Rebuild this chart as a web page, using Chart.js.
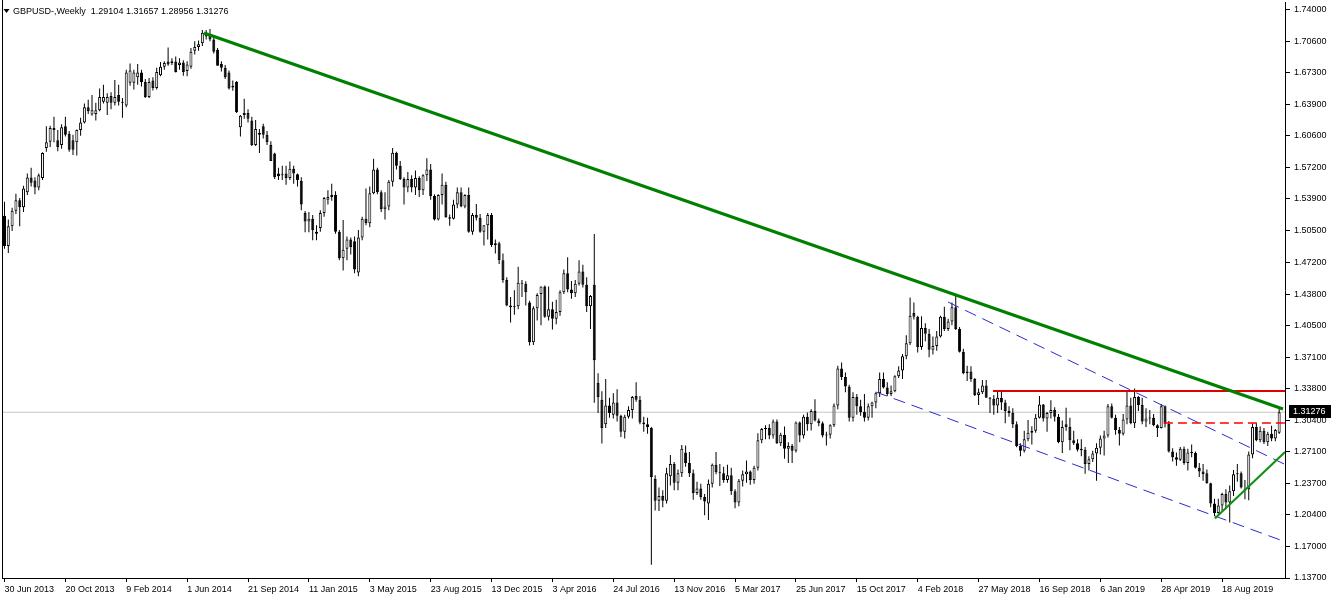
<!DOCTYPE html>
<html><head><meta charset="utf-8">
<script src="https://cdn.jsdelivr.net/npm/chart.js@4.4.0/dist/chart.umd.min.js"></script>
<style>html,body{margin:0;padding:0;background:#fff;overflow:hidden}</style>
</head><body>
<canvas id="c" width="1332" height="599"></canvas>
<script>
// ---- data (GBPUSD weekly, 30 Jun 2013 .. 1 Dec 2019) ----
const symbolName = 'GBPUSD-';
const periodName = 'Weekly';
const opens = [
1.5210,1.4890,1.5100,1.5265,1.5375,1.5300,1.5460,1.5615,1.5585,1.5510,
1.5610,1.5930,1.5995,1.6140,1.6010,1.5960,1.6160,1.6080,1.6010,1.5990,
1.6120,1.6200,1.6360,1.6285,1.6290,1.6330,1.6420,1.6410,1.6480,1.6410,
1.6490,1.6420,1.6380,1.6620,1.6620,1.6680,1.6730,1.6630,1.6470,1.6645,
1.6565,1.6700,1.6790,1.6845,1.6850,1.6845,1.6810,1.6835,1.6745,1.6790,
1.6960,1.7000,1.7040,1.7150,1.7130,1.7080,1.6970,1.6820,1.6780,1.6730,
1.6570,1.6630,1.6150,1.6280,1.6300,1.6220,1.5960,1.6070,1.6160,1.6070,
1.5960,1.5870,1.5660,1.5640,1.5660,1.5610,1.5710,1.5650,1.5580,1.5240,
1.5150,1.5180,1.5020,1.5080,1.5240,1.5380,1.5410,1.5430,1.5040,1.4760,
1.4860,1.4960,1.4940,1.4610,1.4980,1.5180,1.5130,1.5450,1.5700,1.5460,
1.5280,1.5310,1.5570,1.5880,1.5740,1.5600,1.5510,1.5600,1.5510,1.5610,
1.5480,1.5640,1.5700,1.5420,1.5170,1.5430,1.5540,1.5195,1.5180,1.5330,
1.5460,1.5310,1.5430,1.5040,1.5220,1.5190,1.5040,1.5110,1.5220,1.4900,
1.4920,1.4740,1.4530,1.4260,1.4240,1.4250,1.4500,1.4490,1.4290,1.3870,
1.4230,1.4380,1.4460,1.4140,1.4220,1.4120,1.4190,1.4400,1.4600,1.4430,
1.4390,1.4490,1.4620,1.4480,1.4250,1.4480,1.3440,1.3260,1.3000,1.3200,
1.3100,1.3230,1.3090,1.2920,1.3080,1.3150,1.3300,1.3260,1.3020,1.3000,
1.2960,1.2420,1.2190,1.2240,1.2190,1.2450,1.2580,1.2380,1.2480,1.2700,
1.2590,1.2480,1.2270,1.2320,1.2230,1.2160,1.2370,1.2570,1.2490,1.2480,
1.2410,1.2460,1.2290,1.2170,1.2400,1.2470,1.2500,1.2410,1.2540,1.2830,
1.2950,1.2960,1.2880,1.3030,1.2800,1.2890,1.2740,1.2770,1.2720,1.3020,
1.2880,1.3080,1.3000,1.3140,1.3040,1.3010,1.2880,1.2890,1.2990,1.3200,
1.3590,1.3500,1.3400,1.3070,1.3290,1.3190,1.3130,1.3070,1.3190,1.3230,
1.3330,1.3480,1.3390,1.3320,1.3350,1.3510,1.3570,1.3720,1.3860,1.4180,
1.4140,1.3820,1.4020,1.3960,1.3790,1.3830,1.3930,1.4140,1.4010,1.4090,
1.4240,1.4010,1.3770,1.3540,1.3560,1.3480,1.3310,1.3340,1.3410,1.3280,
1.3270,1.3200,1.3280,1.3230,1.3140,1.3120,1.3000,1.2770,1.2720,1.2840,
1.2910,1.2930,1.3070,1.3210,1.3060,1.3120,1.3150,1.3080,1.2810,1.3000,
1.2970,1.2830,1.2800,1.2740,1.2730,1.2580,1.2630,1.2690,1.2750,1.2850,
1.2880,1.3190,1.3070,1.2940,1.2900,1.3050,1.3200,1.3010,1.3290,1.3205,
1.3030,1.3060,1.3070,1.2990,1.2960,1.3190,1.3005,1.2710,1.2650,1.2625,
1.2740,1.2590,1.2700,1.2695,1.2540,1.2500,1.2480,1.2375,1.2160,1.2060,
1.2140,1.2260,1.2170,1.2290,1.2470,1.2480,1.2300,1.2310,1.2680,1.2970,
1.2830,1.2930,1.2810,1.2900,1.2850,1.29104];
const highs = [
1.5360,1.5170,1.5295,1.5445,1.5400,1.5530,1.5660,1.5720,1.5620,1.5660,
1.5885,1.6160,1.6165,1.6260,1.6120,1.6180,1.6260,1.6110,1.6070,1.6125,
1.6250,1.6400,1.6440,1.6490,1.6410,1.6560,1.6600,1.6510,1.6520,1.6650,
1.6600,1.6460,1.6760,1.6825,1.6760,1.6820,1.6760,1.6660,1.6670,1.6680,
1.6780,1.6840,1.6850,1.6995,1.6880,1.6900,1.6880,1.6860,1.6850,1.6990,
1.7060,1.7070,1.7180,1.7180,1.7192,1.7100,1.6990,1.6850,1.6810,1.6750,
1.6645,1.6640,1.6280,1.6450,1.6340,1.6260,1.6225,1.6130,1.6185,1.6110,
1.6000,1.5880,1.5720,1.5740,1.5740,1.5785,1.5740,1.5660,1.5620,1.5260,
1.5250,1.5220,1.5110,1.5270,1.5410,1.5480,1.5550,1.5470,1.5060,1.5165,
1.4990,1.4980,1.4990,1.5060,1.5200,1.5500,1.5520,1.5815,1.5720,1.5480,
1.5460,1.5590,1.5930,1.5890,1.5790,1.5620,1.5675,1.5640,1.5690,1.5630,
1.5650,1.5820,1.5760,1.5440,1.5440,1.5660,1.5570,1.5225,1.5380,1.5510,
1.5510,1.5440,1.5510,1.5240,1.5335,1.5230,1.5110,1.5240,1.5240,1.4960,
1.4935,1.4810,1.4560,1.4350,1.4420,1.4670,1.4530,1.4515,1.4310,1.4250,
1.4390,1.4460,1.4470,1.4460,1.4300,1.4320,1.4420,1.4640,1.4770,1.4520,
1.4530,1.4740,1.4690,1.4560,1.4370,1.5018,1.3540,1.3350,1.3480,1.3280,
1.3330,1.3370,1.3100,1.3100,1.3190,1.3300,1.3445,1.3300,1.3080,1.3070,
1.2970,1.2460,1.2330,1.2300,1.2540,1.2675,1.2600,1.2520,1.2780,1.2775,
1.2705,1.2520,1.2390,1.2370,1.2260,1.2415,1.2585,1.2705,1.2580,1.2550,
1.2570,1.2540,1.2310,1.2420,1.2510,1.2615,1.2510,1.2560,1.2905,1.2960,
1.2990,1.3000,1.3050,1.3050,1.2910,1.2975,1.2810,1.2790,1.3030,1.3030,
1.3100,1.3125,1.3160,1.3265,1.3060,1.3030,1.2920,1.3000,1.3220,1.3620,
1.3655,1.3550,1.3420,1.3340,1.3320,1.3260,1.3320,1.3220,1.3240,1.3340,
1.3550,1.3550,1.3445,1.3410,1.3520,1.3615,1.3745,1.3945,1.4345,1.4290,
1.4150,1.4145,1.4070,1.4010,1.3930,1.3990,1.4150,1.4245,1.4120,1.4290,
1.4376,1.4030,1.3800,1.3620,1.3615,1.3490,1.3380,1.3470,1.3470,1.3290,
1.3310,1.3360,1.3360,1.3260,1.3190,1.3170,1.3030,1.2800,1.2930,1.3045,
1.2980,1.3110,1.3300,1.3215,1.3130,1.3255,1.3180,1.3110,1.3040,1.3175,
1.3070,1.2930,1.2840,1.2840,1.2760,1.2660,1.2720,1.2800,1.2880,1.2930,
1.3215,1.3220,1.3100,1.2970,1.3110,1.3350,1.3280,1.3380,1.3300,1.3280,
1.3170,1.3150,1.3110,1.3000,1.3215,1.3200,1.3035,1.2745,1.2700,1.2760,
1.2765,1.2740,1.2785,1.2710,1.2590,1.2580,1.2520,1.2380,1.2210,1.2210,
1.2275,1.2310,1.2350,1.2515,1.2580,1.2500,1.2410,1.2710,1.3010,1.3010,
1.2975,1.2960,1.2920,1.2985,1.2950,1.31657];
const lows = [
1.4860,1.4815,1.5050,1.5230,1.5100,1.5250,1.5430,1.5520,1.5440,1.5480,
1.5590,1.5890,1.5940,1.5990,1.5895,1.5920,1.6050,1.5890,1.5855,1.5850,
1.6060,1.6190,1.6290,1.6270,1.6220,1.6320,1.6400,1.6280,1.6340,1.6380,
1.6380,1.6250,1.6360,1.6590,1.6550,1.6600,1.6580,1.6460,1.6460,1.6540,
1.6550,1.6690,1.6760,1.6800,1.6810,1.6730,1.6760,1.6695,1.6690,1.6770,
1.6920,1.6960,1.7010,1.7080,1.7060,1.6930,1.6800,1.6740,1.6660,1.6550,
1.6535,1.6300,1.6050,1.6240,1.6200,1.5950,1.5950,1.5875,1.6030,1.5960,
1.5790,1.5600,1.5590,1.5590,1.5540,1.5590,1.5550,1.5520,1.5270,1.5035,
1.5035,1.4950,1.4950,1.5040,1.5200,1.5330,1.5370,1.5020,1.4740,1.4630,
1.4740,1.4800,1.4600,1.4570,1.4950,1.5110,1.5090,1.5440,1.5440,1.5250,
1.5170,1.5270,1.5520,1.5700,1.5590,1.5330,1.5460,1.5460,1.5430,1.5410,
1.5430,1.5580,1.5380,1.5160,1.5160,1.5330,1.5190,1.5105,1.5170,1.5290,
1.5300,1.5290,1.5030,1.5010,1.5160,1.5030,1.4895,1.4960,1.4880,1.4810,
1.4700,1.4500,1.4250,1.4080,1.4160,1.4220,1.4350,1.4260,1.3835,1.3840,
1.4100,1.4050,1.4130,1.4100,1.4005,1.4060,1.4150,1.4380,1.4400,1.4330,
1.4350,1.4470,1.4450,1.4190,1.4010,1.3229,1.3120,1.2795,1.2960,1.3070,
1.3060,1.3030,1.2865,1.2850,1.3060,1.3060,1.3240,1.3000,1.2920,1.2900,
1.1510,1.2085,1.2080,1.2120,1.2160,1.2350,1.2300,1.2300,1.2440,1.2550,
1.2440,1.2200,1.2250,1.2200,1.2035,1.1985,1.2330,1.2470,1.2345,1.2380,
1.2380,1.2250,1.2110,1.2130,1.2340,1.2380,1.2360,1.2370,1.2510,1.2800,
1.2840,1.2840,1.2850,1.2790,1.2770,1.2635,1.2590,1.2590,1.2700,1.2810,
1.2850,1.2930,1.2935,1.3030,1.2980,1.2860,1.2775,1.2850,1.2970,1.3160,
1.3470,1.3340,1.3030,1.3030,1.3100,1.3090,1.3030,1.3040,1.3070,1.3170,
1.3290,1.3380,1.3300,1.3300,1.3340,1.3490,1.3480,1.3690,1.3840,1.4110,
1.3760,1.3790,1.3880,1.3710,1.3740,1.3780,1.3920,1.3990,1.3990,1.4050,
1.4000,1.3760,1.3530,1.3460,1.3450,1.3300,1.3205,1.3320,1.3280,1.3120,
1.3100,1.3120,1.3150,1.3010,1.3080,1.2960,1.2755,1.2660,1.2700,1.2820,
1.2785,1.2910,1.3060,1.3030,1.2920,1.3060,1.3030,1.2800,1.2695,1.2930,
1.2725,1.2780,1.2710,1.2660,1.2475,1.2510,1.2600,1.2400,1.2680,1.2670,
1.2860,1.3060,1.2890,1.2775,1.2880,1.3000,1.3000,1.2960,1.3140,1.3000,
1.2970,1.3000,1.2980,1.2865,1.2955,1.2965,1.2700,1.2605,1.2560,1.2610,
1.2570,1.2510,1.2650,1.2530,1.2440,1.2400,1.2370,1.2120,1.2025,1.2050,
1.2080,1.2100,1.1958,1.2240,1.2390,1.2320,1.2205,1.2195,1.2640,1.2820,
1.2810,1.2790,1.2770,1.2820,1.2820,1.28956];
const closes = [
1.4890,1.5100,1.5265,1.5375,1.5300,1.5500,1.5615,1.5560,1.5510,1.5640,
1.5875,1.5990,1.6140,1.6120,1.5940,1.6150,1.6070,1.5910,1.5910,1.6120,
1.6200,1.6360,1.6320,1.6330,1.6330,1.6470,1.6470,1.6470,1.6410,1.6470,
1.6420,1.6410,1.6730,1.6750,1.6730,1.6730,1.6630,1.6470,1.6630,1.6565,
1.6735,1.6790,1.6830,1.6815,1.6830,1.6735,1.6835,1.6735,1.6815,1.6950,
1.7000,1.7030,1.7150,1.7110,1.7080,1.6950,1.6800,1.6780,1.6680,1.6560,
1.6590,1.6310,1.6270,1.6300,1.6240,1.5960,1.6130,1.6090,1.6070,1.5990,
1.5790,1.5620,1.5630,1.5645,1.5610,1.5710,1.5660,1.5590,1.5330,1.5150,
1.5180,1.5060,1.5040,1.5240,1.5400,1.5410,1.5430,1.5040,1.4760,1.4850,
1.4960,1.4880,1.4640,1.4980,1.5180,1.5130,1.5450,1.5700,1.5460,1.5280,
1.5310,1.5570,1.5880,1.5740,1.5600,1.5510,1.5600,1.5510,1.5610,1.5480,
1.5640,1.5700,1.5420,1.5170,1.5430,1.5540,1.5195,1.5180,1.5330,1.5460,
1.5310,1.5430,1.5040,1.5220,1.5190,1.5040,1.5110,1.5220,1.4900,1.4920,
1.4740,1.4530,1.4260,1.4240,1.4250,1.4500,1.4490,1.4400,1.3870,1.4230,
1.4370,1.4460,1.4140,1.4220,1.4120,1.4190,1.4400,1.4600,1.4430,1.4390,
1.4490,1.4620,1.4480,1.4250,1.4360,1.3680,1.3290,1.2960,1.3200,1.3120,
1.3230,1.3090,1.2920,1.3080,1.3150,1.3290,1.3260,1.3020,1.3000,1.2970,
1.2440,1.2190,1.2240,1.2190,1.2480,1.2580,1.2380,1.2480,1.2740,1.2590,
1.2480,1.2270,1.2320,1.2230,1.2180,1.2370,1.2570,1.2490,1.2480,1.2410,
1.2460,1.2290,1.2170,1.2400,1.2470,1.2500,1.2410,1.2540,1.2830,1.2950,
1.2960,1.2880,1.3030,1.2800,1.2890,1.2740,1.2770,1.2720,1.3020,1.2880,
1.3080,1.3000,1.3140,1.3040,1.3010,1.2880,1.2890,1.2990,1.3200,1.3590,
1.3500,1.3400,1.3070,1.3290,1.3190,1.3130,1.3070,1.3190,1.3230,1.3330,
1.3480,1.3390,1.3320,1.3350,1.3510,1.3570,1.3720,1.3860,1.4150,1.4140,
1.3820,1.4020,1.3960,1.3790,1.3830,1.3930,1.4140,1.4010,1.4090,1.4240,
1.4010,1.3770,1.3540,1.3560,1.3480,1.3310,1.3340,1.3410,1.3280,1.3270,
1.3200,1.3280,1.3230,1.3140,1.3120,1.3000,1.2770,1.2720,1.2840,1.2910,
1.2930,1.3070,1.3210,1.3060,1.3120,1.3150,1.3080,1.2810,1.2970,1.2970,
1.2830,1.2800,1.2730,1.2725,1.2580,1.2630,1.2690,1.2750,1.2850,1.2880,
1.3190,1.3070,1.2940,1.2900,1.3050,1.3200,1.3010,1.3290,1.3205,1.3030,
1.3060,1.3070,1.2990,1.2960,1.3190,1.3005,1.2710,1.2650,1.2625,1.2740,
1.2590,1.2700,1.2695,1.2540,1.2500,1.2470,1.2375,1.2160,1.2060,1.2140,
1.2260,1.2170,1.2290,1.2470,1.2480,1.2330,1.2310,1.2680,1.2970,1.2830,
1.2930,1.2810,1.2900,1.2850,1.2940,1.31276];

const xTickIndex  = [0,16,32,48,64,80,96,112,128,144,160,176,192,208,224,240,256,272,288,304,320];
const xTickLabels = ['30 Jun 2013','20 Oct 2013','9 Feb 2014','1 Jun 2014','21 Sep 2014','11 Jan 2015','3 May 2015','23 Aug 2015','13 Dec 2015','3 Apr 2016','24 Jul 2016','13 Nov 2016','5 Mar 2017','25 Jun 2017','15 Oct 2017','4 Feb 2018','27 May 2018','16 Sep 2018','6 Jan 2019','28 Apr 2019','18 Aug 2019'];
const yTickLabels = ['1.74000','1.70600','1.67300','1.63900','1.60600','1.57200','1.53900','1.50500','1.47200','1.43800','1.40500','1.37100','1.33800','1.30400','1.27100','1.23700','1.20400','1.17000','1.13700'];

// drawn analysis lines: [week index, price] end points
const mainTrendLine   = [[52.43, 1.7149], [336.0, 1.3162]];
const supportLine     = [[318.1, 1.2000], [336.53, 1.2705]];
const resistanceLine  = [[259.8, 1.3353], [336.53, 1.3353]];
const dashedLevelLine = [[304.7, 1.3013], [336.53, 1.3013]];
const channelUpper    = [[247.97, 1.4296], [336.53, 1.2574]];
const channelLower    = [[229.0, 1.3342], [336.53, 1.1755]];

// ---- build ----
const N = closes.length;
const weekIndex = closes.map((_, i) => i);
const bodies = weekIndex.map(i => ({x: i, y: [opens[i], closes[i]]}));
const wicks  = weekIndex.map(i => ({x: i, y: [lows[i], highs[i]]}));
const bodyFill = weekIndex.map(i => closes[i] >= opens[i] ? '#ffffff' : '#000000');
const yTickValues = yTickLabels.map(Number);
const lastClose = closes[N - 1];
const X_MIN = -0.657, X_MAX = 336.53;
const pts = a => a.map(p => ({x: p[0], y: p[1]}));
const lineDs = (data, color, width, dash, order) => ({
  type: 'line', data: pts(data), borderColor: color, borderWidth: width,
  borderDash: dash, pointRadius: 0, fill: false, tension: 0, order: order
});
const FONT = '"Liberation Sans", Arial, sans-serif';

const framePlugin = {
  id: 'frame',
  afterDatasetsDraw(chart) {
    const {ctx, chartArea: a} = chart;
    ctx.save();
    ctx.strokeStyle = '#000'; ctx.lineWidth = 1;
    ctx.beginPath(); ctx.moveTo(a.left + 0.5, 0); ctx.lineTo(a.left + 0.5, a.bottom); ctx.stroke();
    ctx.restore();
  }
};
const headerPlugin = {
  id: 'header',
  afterDraw(chart) {
    const ctx = chart.ctx;
    ctx.save();
    ctx.fillStyle = '#000';
    ctx.beginPath(); ctx.moveTo(3.5, 9); ctx.lineTo(9.5, 9); ctx.lineTo(6.5, 13); ctx.closePath(); ctx.fill();
    ctx.font = '9px ' + FONT;
    ctx.textBaseline = 'alphabetic';
    const txt = symbolName + ',' + periodName + '  ' + [opens[N-1], highs[N-1], lows[N-1], closes[N-1]].map(v => v.toFixed(5)).join(' ');
    ctx.fillText(txt, 13, 14);
    ctx.restore();
  }
};
const pricePlugin = {
  id: 'priceTag',
  afterDraw(chart) {
    const {ctx, chartArea: a} = chart;
    const y = Math.round(chart.scales.y.getPixelForValue(lastClose));
    ctx.save();
    ctx.fillStyle = '#000';
    ctx.fillRect(a.right + 4, y - 7, 42, 13);
    ctx.fillStyle = '#fff';
    ctx.font = '9px ' + FONT;
    ctx.textBaseline = 'middle';
    ctx.fillText(lastClose.toFixed(5), a.right + 8, y);
    ctx.restore();
  }
};

new Chart(document.getElementById('c'), {
  type: 'bar',
  data: {
    datasets: [
      lineDs(mainTrendLine, '#008000', 3.2, [], 0),
      lineDs(supportLine, '#109010', 2, [], 0),
      lineDs(resistanceLine, '#e00000', 2, [], 1),
      lineDs(dashedLevelLine, '#ff0000', 1.5, [9, 5], 1),
      lineDs(channelUpper, '#2a2ad0', 1, [12, 7], 1),
      lineDs(channelLower, '#2a2ad0', 1, [12, 7], 1),
      { label: 'body', data: bodies, backgroundColor: bodyFill, borderColor: '#000', borderWidth: 1,
        borderSkipped: false, barThickness: 3, minBarLength: 1, grouped: false, inflateAmount: 0, order: 5 },
      { label: 'wick', data: wicks, backgroundColor: '#000', borderWidth: 0,
        barThickness: 1, grouped: false, inflateAmount: 0, order: 6 },
      lineDs([[X_MIN, lastClose], [X_MAX, lastClose]], '#c4c4c4', 1, [], 7)
    ]
  },
  options: {
    responsive: false, animation: false, events: [],
    layout: { padding: { left: 2, top: 2, right: 0, bottom: 0 } },
    plugins: { legend: { display: false }, tooltip: { enabled: false }, title: { display: false } },
    scales: {
      x: {
        type: 'linear', min: X_MIN, max: X_MAX, offset: false,
        afterBuildTicks: s => { s.ticks = xTickIndex.map(v => ({ value: v })); },
        afterFit: s => { s.height = 21; s.paddingLeft = 0; s.paddingRight = 0; },
        ticks: { autoSkip: false, maxRotation: 0, minRotation: 0, align: 'start', padding: 2,
                 color: '#000', font: { family: FONT, size: 9 }, callback: (v, i) => xTickLabels[i] },
        grid: { drawOnChartArea: false, drawTicks: true, tickLength: 4, color: '#000', offset: false },
        border: { display: true, color: '#000', width: 1 }
      },
      y: {
        type: 'linear', position: 'right', min: 1.137, max: 1.7477,
        afterBuildTicks: s => { s.ticks = yTickValues.map(v => ({ value: v })); },
        afterFit: s => { s.width = 47; s.paddingTop = 0; s.paddingBottom = 0; },
        ticks: { padding: 4, color: '#000', font: { family: FONT, size: 9 }, callback: (v, i) => yTickLabels[i] },
        grid: { drawOnChartArea: false, drawTicks: true, tickLength: 5, color: '#000' },
        border: { display: true, color: '#000', width: 1 }
      }
    }
  },
  plugins: [framePlugin, headerPlugin, pricePlugin]
});
</script>
</body></html>
